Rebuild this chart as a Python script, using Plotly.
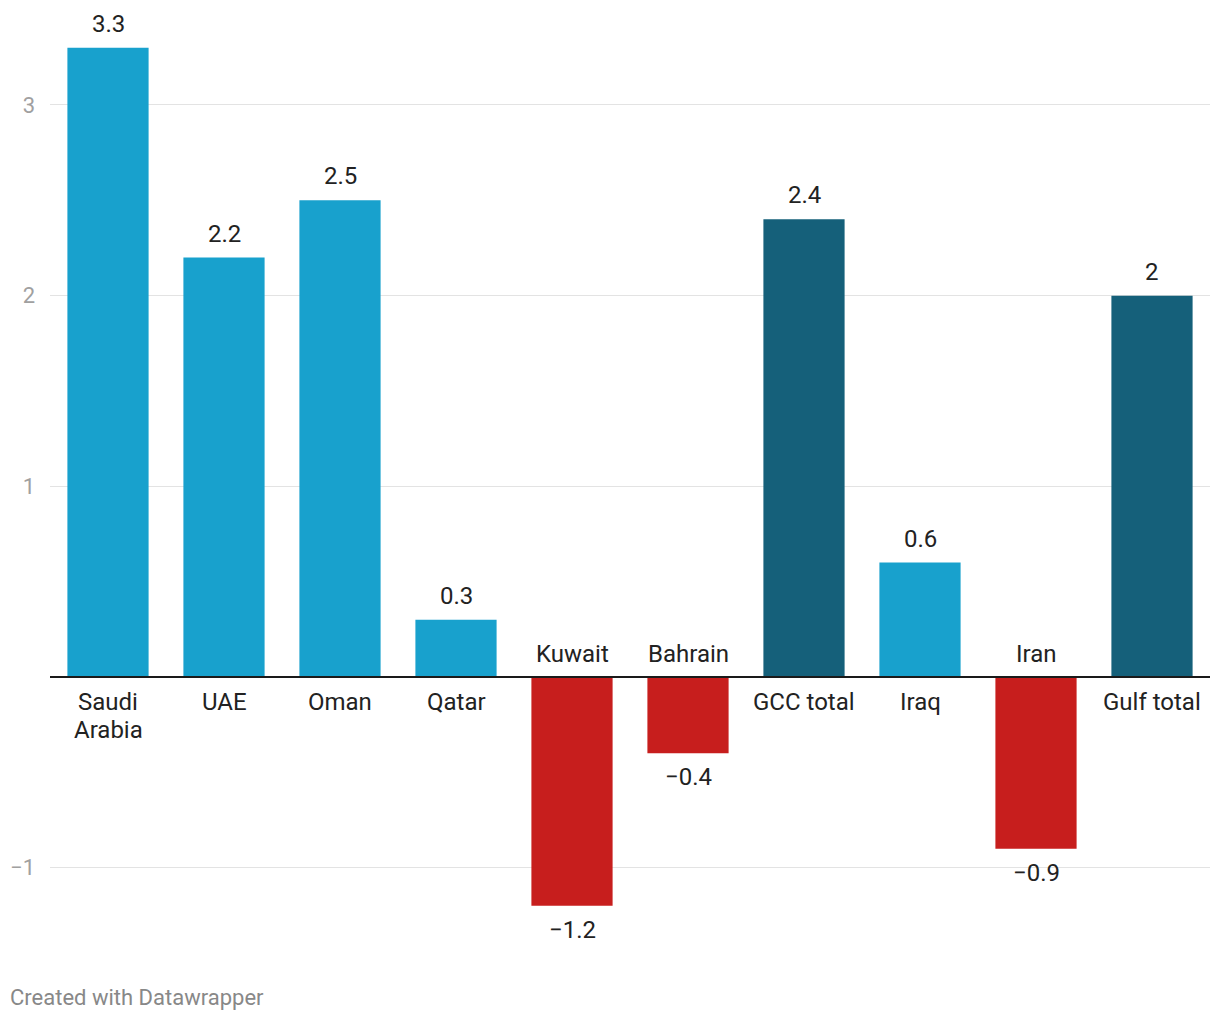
import plotly.graph_objects as go

categories = ["Saudi<br>Arabia", "UAE", "Oman", "Qatar", "Kuwait", "Bahrain", "GCC total", "Iraq", "Iran", "Gulf total"]
values = [3.3, 2.2, 2.5, 0.3, -1.2, -0.4, 2.4, 0.6, -0.9, 2.0]
kinds = ["country", "country", "country", "country", "country", "country", "total", "country", "country", "total"]
value_labels = ["3.3", "2.2", "2.5", "0.3", "−1.2", "−0.4", "2.4", "0.6", "−0.9", "2"]
tick_vals = [-1, 1, 2, 3]
tick_text = ["−1", "1", "2", "3"]

LIGHT = "#18a1cd"
DARK = "#15607a"
RED = "#c71e1d"

colors = []
for v, k in zip(values, kinds):
    if v < 0:
        colors.append(RED)
    elif k == "total":
        colors.append(DARK)
    else:
        colors.append(LIGHT)

x = list(range(len(categories)))

fig = go.Figure(go.Bar(x=x, y=values, marker_color=colors, marker_line_width=0,
                       hoverinfo="skip"))

font_family = "Roboto, sans-serif"
LFS = 24
ann = []
for i, (c, v, lab) in enumerate(zip(categories, values, value_labels)):
    lines = c.split("<br>")
    if v >= 0:
        ann.append(dict(x=i, y=v, text=lab, showarrow=False, xanchor="center", yanchor="middle",
                        yshift=24, font=dict(size=LFS, color="#222", family=font_family)))
        for j, ln in enumerate(lines):
            ann.append(dict(x=i, y=0, text=ln, showarrow=False, xanchor="center", yanchor="middle",
                            yshift=-25 - 28 * j, font=dict(size=LFS, color="#222", family=font_family)))
    else:
        ann.append(dict(x=i, y=v, text=lab, showarrow=False, xanchor="center", yanchor="middle",
                        yshift=-24, font=dict(size=LFS, color="#222", family=font_family)))
        for j, ln in enumerate(lines):
            ann.append(dict(x=i, y=0, text=ln, showarrow=False, xanchor="center", yanchor="middle",
                            yshift=23 + 28 * (len(lines) - 1 - j), font=dict(size=LFS, color="#222", family=font_family)))

# page is offset by 8px (body margin): plot area screen x 50..1210, y 10..960
L, T, PW, PH = 42, 2, 1160, 950
ann.append(dict(xref="paper", yref="paper", x=(0 - L) / PW, y=-(989 - (T + PH)) / PH,
                xanchor="left", yanchor="middle",
                text="Created with Datawrapper", showarrow=False,
                font=dict(size=22, color="#888", family=font_family)))

fig.update_layout(
    width=1220, height=1020,
    margin=dict(l=L, r=1220 - L - PW, t=T, b=1020 - T - PH, pad=0),
    paper_bgcolor="white", plot_bgcolor="white",
    bargap=0.3,
    showlegend=False,
    font=dict(family=font_family),
    xaxis=dict(range=[-0.5, len(categories) - 0.5], showticklabels=False, showgrid=False,
               zeroline=False, showline=False, ticks="", fixedrange=True),
    yaxis=dict(range=[-1.484, 3.498], tickvals=tick_vals, ticktext=tick_text,
               showgrid=True, gridcolor="#e3e3e3", gridwidth=1, zeroline=False,
               showline=False, ticks="", ticklabelstandoff=14,
               tickfont=dict(size=22, color="#a0a0a0", family=font_family), fixedrange=True),
    annotations=ann,
    shapes=[dict(type="line", xref="paper", yref="y", x0=0, x1=1, y0=0, y1=0,
                 line=dict(color="#1a1a1a", width=2), layer="above")],
)

fig.write_html("out.html")
